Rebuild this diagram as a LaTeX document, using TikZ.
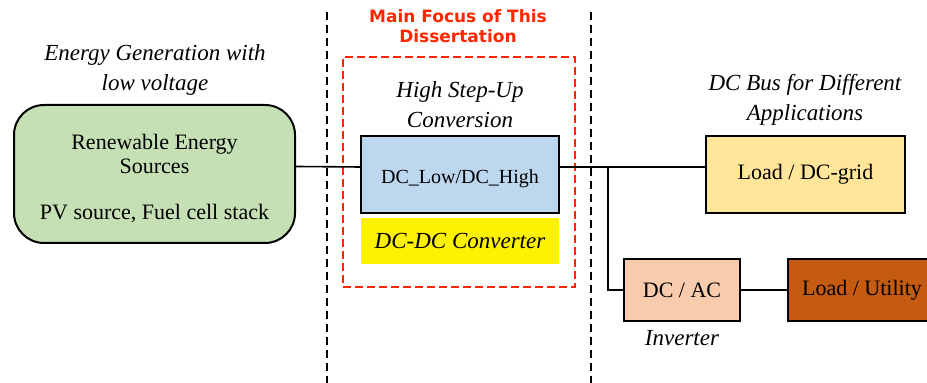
\documentclass[tikz,border=0pt]{standalone}
\usepackage{fontspec}
\setmainfont{Liberation Serif}
\newfontfamily\headfont{DejaVu Sans}
\definecolor{srcgreen}{HTML}{C5E0B4}
\definecolor{convblue}{HTML}{BDD7EE}
\definecolor{gridyellow}{HTML}{FFE699}
\definecolor{invpeach}{HTML}{F8CBAD}
\definecolor{utilbrown}{HTML}{C55A11}
\definecolor{focusred}{HTML}{FF2600}

\begin{document}
\begin{tikzpicture}[x=0.5pt, y=-0.5pt]
	\tikzstyle{every node} = [font=\fontsize{11}{12}\selectfont, align=center, inner sep=0pt]
	\tikzstyle{block} = [draw, line width=1pt, minimum width=99pt, minimum height=38.5pt]
	\tikzstyle{caption} = [font=\fontsize{11.5}{15}\selectfont\itshape]
	\tikzstyle{bus} = [line width=0.8pt]
	\tikzstyle{divider} = [line width=0.8pt, dash pattern=on 4pt off 2.5pt]
	\useasboundingbox (0,0) rectangle (927,383);
	\clip (0,0) rectangle (927,383);
	\draw [divider] (327,12) -- (327,383);
	\draw [divider] (591,12) -- (591,383);
	\node [draw=focusred, line width=1pt, dash pattern=on 4pt off 2pt, minimum width=116pt, minimum height=115pt] (focus) at (459,172) {};
	\node [text=focusred, font=\headfont\bfseries\fontsize{8.5}{10}\selectfont] (focustitle) at (458,26) {Main Focus of This\\Dissertation};
	\node [caption] (gentitle) at (155,70) {Energy Generation with\\low voltage};
	\node [caption] (convtitle) at (460,105) {High Step-Up\\Conversion};
	\node [caption] (bustitle) at (805,100) {DC Bus for Different\\Applications};
	\node [block, rounded corners=15pt, fill=srcgreen, minimum width=140.5pt, minimum height=69pt] (res) at (154.5,174) {\rule{0pt}{12pt}Renewable Energy\\Sources\\[11pt]PV source, Fuel cell stack};
	\node [block, fill=convblue, font=\fontsize{10}{12}\selectfont] (conv) at (460,174.5) {\rule{0pt}{11pt}DC\_Low/DC\_High};
	\node [fill=yellow, minimum width=99pt, minimum height=23pt, caption] (dcdc) at (460,241) {DC-DC Converter};
	\node [block, fill=gridyellow, minimum width=99.5pt] (dcgrid) at (805.5,174.5) {Load / DC-grid};
	\node [block, fill=invpeach, minimum width=58pt, minimum height=31pt] (dcac) at (682,290) {DC / AC};
	\node [caption] (invtitle) at (682,338) {Inverter};
	\node [block, fill=utilbrown, minimum width=74pt, minimum height=31pt] (util) at (862,290) {Load / Utility};
	\coordinate (tap) at (608,166.5);
	\draw [bus] ([yshift=3.75pt]res.east) -- ([yshift=3.75pt]conv.west);
	\draw [bus] ([yshift=3.75pt]conv.east) -- ([yshift=3.75pt]dcgrid.west);
	\draw [bus] (tap) |- (dcac.west);
	\draw [bus] (dcac) -- (util);
\end{tikzpicture}
\end{document}
